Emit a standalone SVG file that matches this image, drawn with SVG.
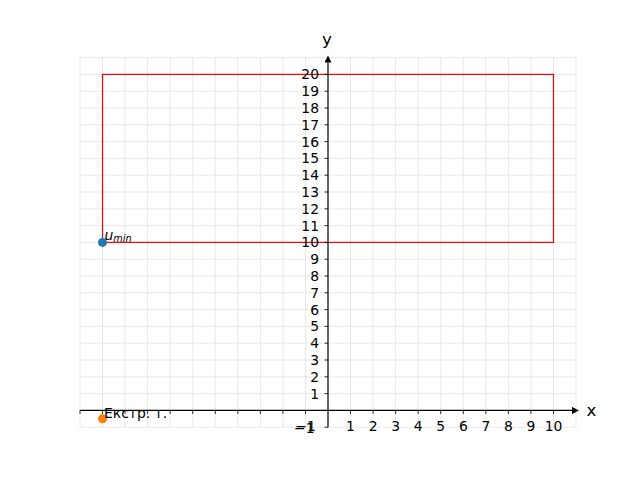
<svg xmlns="http://www.w3.org/2000/svg" width="640" height="480" viewBox="0 0 640 480">
<style>
.grid line{stroke:#b0b0b0;stroke-opacity:0.35;stroke-width:0.8}
.tick line{stroke:#000;stroke-width:0.8}
text{font-family:"DejaVu Sans","Liberation Sans",sans-serif;font-size:13.9px;fill:#000}
.yl{text-anchor:end}
.xl{text-anchor:middle}
</style>
<defs>
<marker id="ah" viewBox="0 0 10 10" refX="0" refY="5" markerWidth="8.5" markerHeight="7" markerUnits="userSpaceOnUse" orient="auto">
<path d="M0,0 L10,5 L0,10 z" fill="#000"/>
</marker>
</defs>
<rect width="640" height="480" fill="#fff"/>
<g class="grid" id="grid">
<line x1="80" y1="57.6" x2="80" y2="427.2"/>
<line x1="102.5" y1="57.6" x2="102.5" y2="427.2"/>
<line x1="125.1" y1="57.6" x2="125.1" y2="427.2"/>
<line x1="147.6" y1="57.6" x2="147.6" y2="427.2"/>
<line x1="170.2" y1="57.6" x2="170.2" y2="427.2"/>
<line x1="192.7" y1="57.6" x2="192.7" y2="427.2"/>
<line x1="215.3" y1="57.6" x2="215.3" y2="427.2"/>
<line x1="237.8" y1="57.6" x2="237.8" y2="427.2"/>
<line x1="260.4" y1="57.6" x2="260.4" y2="427.2"/>
<line x1="282.9" y1="57.6" x2="282.9" y2="427.2"/>
<line x1="305.5" y1="57.6" x2="305.5" y2="427.2"/>
<line x1="350.5" y1="57.6" x2="350.5" y2="427.2"/>
<line x1="373.1" y1="57.6" x2="373.1" y2="427.2"/>
<line x1="395.6" y1="57.6" x2="395.6" y2="427.2"/>
<line x1="418.2" y1="57.6" x2="418.2" y2="427.2"/>
<line x1="440.7" y1="57.6" x2="440.7" y2="427.2"/>
<line x1="463.3" y1="57.6" x2="463.3" y2="427.2"/>
<line x1="485.8" y1="57.6" x2="485.8" y2="427.2"/>
<line x1="508.4" y1="57.6" x2="508.4" y2="427.2"/>
<line x1="530.9" y1="57.6" x2="530.9" y2="427.2"/>
<line x1="553.5" y1="57.6" x2="553.5" y2="427.2"/>
<line x1="576" y1="57.6" x2="576" y2="427.2"/>
<line x1="80" y1="57.6" x2="576" y2="57.6"/>
<line x1="80" y1="74.4" x2="576" y2="74.4"/>
<line x1="80" y1="91.2" x2="576" y2="91.2"/>
<line x1="80" y1="108" x2="576" y2="108"/>
<line x1="80" y1="124.8" x2="576" y2="124.8"/>
<line x1="80" y1="141.6" x2="576" y2="141.6"/>
<line x1="80" y1="158.4" x2="576" y2="158.4"/>
<line x1="80" y1="175.2" x2="576" y2="175.2"/>
<line x1="80" y1="192" x2="576" y2="192"/>
<line x1="80" y1="208.8" x2="576" y2="208.8"/>
<line x1="80" y1="225.6" x2="576" y2="225.6"/>
<line x1="80" y1="242.4" x2="576" y2="242.4"/>
<line x1="80" y1="259.2" x2="576" y2="259.2"/>
<line x1="80" y1="276" x2="576" y2="276"/>
<line x1="80" y1="292.8" x2="576" y2="292.8"/>
<line x1="80" y1="309.6" x2="576" y2="309.6"/>
<line x1="80" y1="326.4" x2="576" y2="326.4"/>
<line x1="80" y1="343.2" x2="576" y2="343.2"/>
<line x1="80" y1="360" x2="576" y2="360"/>
<line x1="80" y1="376.8" x2="576" y2="376.8"/>
<line x1="80" y1="393.6" x2="576" y2="393.6"/>
<line x1="80" y1="427.2" x2="576" y2="427.2"/>
</g>
<g id="region">
<rect x="102.5" y="74.4" width="451" height="168" fill="none" stroke="#ff0000" stroke-width="1.2"/>
</g>
<g id="axes">
<line x1="80" y1="410.4" x2="572" y2="410.4" stroke="#000" stroke-width="1.2" marker-end="url(#ah)"/>
<line x1="328" y1="427.2" x2="328" y2="62.5" stroke="#000" stroke-width="1.2" marker-end="url(#ah)"/>
<text x="591.5" y="416" class="xl" style="font-size:16.7px">x</text>
<text x="327" y="45" class="xl" style="font-size:16.7px">y</text>
</g>
<g class="tick" id="xticks">
<line x1="80" y1="410.4" x2="80" y2="414"/>
<line x1="102.5" y1="410.4" x2="102.5" y2="414"/>
<line x1="125.1" y1="410.4" x2="125.1" y2="414"/>
<line x1="147.6" y1="410.4" x2="147.6" y2="414"/>
<line x1="170.2" y1="410.4" x2="170.2" y2="414"/>
<line x1="192.7" y1="410.4" x2="192.7" y2="414"/>
<line x1="215.3" y1="410.4" x2="215.3" y2="414"/>
<line x1="237.8" y1="410.4" x2="237.8" y2="414"/>
<line x1="260.4" y1="410.4" x2="260.4" y2="414"/>
<line x1="282.9" y1="410.4" x2="282.9" y2="414"/>
<line x1="305.5" y1="410.4" x2="305.5" y2="414"/>
<line x1="350.5" y1="410.4" x2="350.5" y2="414"/>
<line x1="373.1" y1="410.4" x2="373.1" y2="414"/>
<line x1="395.6" y1="410.4" x2="395.6" y2="414"/>
<line x1="418.2" y1="410.4" x2="418.2" y2="414"/>
<line x1="440.7" y1="410.4" x2="440.7" y2="414"/>
<line x1="463.3" y1="410.4" x2="463.3" y2="414"/>
<line x1="485.8" y1="410.4" x2="485.8" y2="414"/>
<line x1="508.4" y1="410.4" x2="508.4" y2="414"/>
<line x1="530.9" y1="410.4" x2="530.9" y2="414"/>
<line x1="553.5" y1="410.4" x2="553.5" y2="414"/>
</g>
<g id="xlabels" class="xl">
<text x="305.5" y="431">−1</text>
<text x="350.5" y="431">1</text>
<text x="373.1" y="431">2</text>
<text x="395.6" y="431">3</text>
<text x="418.2" y="431">4</text>
<text x="440.7" y="431">5</text>
<text x="463.3" y="431">6</text>
<text x="485.8" y="431">7</text>
<text x="508.4" y="431">8</text>
<text x="530.9" y="431">9</text>
<text x="553.5" y="431">10</text>
</g>
<g class="tick" id="yticks">
<line x1="324.5" y1="74.4" x2="328" y2="74.4"/>
<line x1="324.5" y1="91.2" x2="328" y2="91.2"/>
<line x1="324.5" y1="108" x2="328" y2="108"/>
<line x1="324.5" y1="124.8" x2="328" y2="124.8"/>
<line x1="324.5" y1="141.6" x2="328" y2="141.6"/>
<line x1="324.5" y1="158.4" x2="328" y2="158.4"/>
<line x1="324.5" y1="175.2" x2="328" y2="175.2"/>
<line x1="324.5" y1="192" x2="328" y2="192"/>
<line x1="324.5" y1="208.8" x2="328" y2="208.8"/>
<line x1="324.5" y1="225.6" x2="328" y2="225.6"/>
<line x1="324.5" y1="242.4" x2="328" y2="242.4"/>
<line x1="324.5" y1="259.2" x2="328" y2="259.2"/>
<line x1="324.5" y1="276" x2="328" y2="276"/>
<line x1="324.5" y1="292.8" x2="328" y2="292.8"/>
<line x1="324.5" y1="309.6" x2="328" y2="309.6"/>
<line x1="324.5" y1="326.4" x2="328" y2="326.4"/>
<line x1="324.5" y1="343.2" x2="328" y2="343.2"/>
<line x1="324.5" y1="360" x2="328" y2="360"/>
<line x1="324.5" y1="376.8" x2="328" y2="376.8"/>
<line x1="324.5" y1="393.6" x2="328" y2="393.6"/>
<line x1="324.5" y1="410.4" x2="328" y2="410.4"/>
<line x1="324.5" y1="427.2" x2="328" y2="427.2"/>
</g>
<g id="ylabels" class="yl">
<text x="319" y="79.4">20</text>
<text x="319" y="96.2">19</text>
<text x="319" y="113">18</text>
<text x="319" y="129.8">17</text>
<text x="319" y="146.6">16</text>
<text x="319" y="163.4">15</text>
<text x="319" y="180.2">14</text>
<text x="319" y="197">13</text>
<text x="319" y="213.8">12</text>
<text x="319" y="230.6">11</text>
<text x="319" y="247.4">10</text>
<text x="319" y="264.2">9</text>
<text x="319" y="281">8</text>
<text x="319" y="297.8">7</text>
<text x="319" y="314.6">6</text>
<text x="319" y="331.4">5</text>
<text x="319" y="348.2">4</text>
<text x="319" y="365">3</text>
<text x="319" y="381.8">2</text>
<text x="319" y="398.6">1</text>
<text x="314.5" y="433">−1</text>
</g>
<g id="umin">
<circle cx="102.5" cy="242.4" r="4.5" fill="#1f77b4"/>
<text x="104.5" y="240"><tspan font-style="italic">u</tspan><tspan font-style="italic" font-size="9.7" dy="1.5">min</tspan></text>
</g>
<g id="extr">
<circle cx="102.5" cy="418.8" r="4.5" fill="#ff7f0e"/>
<text x="104" y="418">Екстр. т.</text>
</g>
</svg>
